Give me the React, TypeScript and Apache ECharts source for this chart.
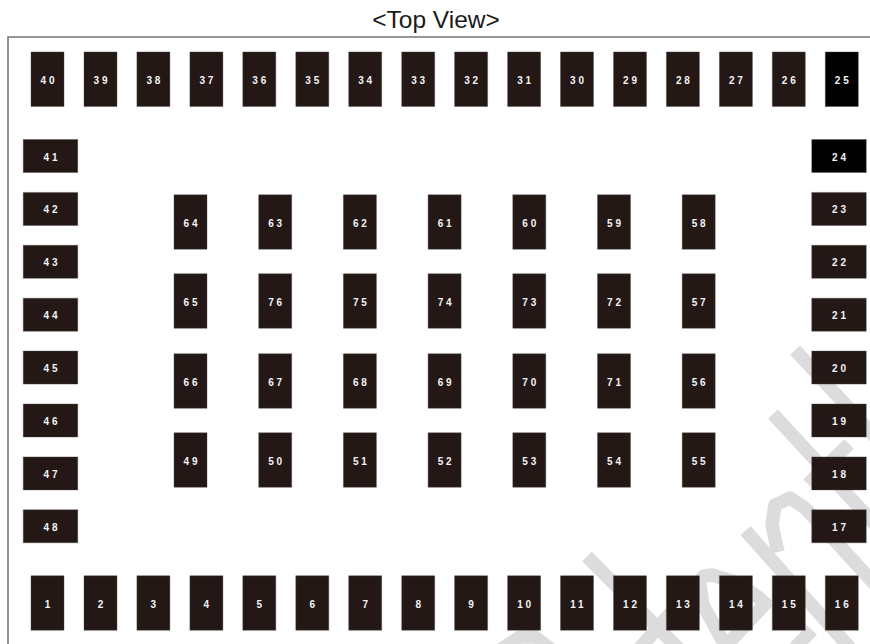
import React, { useEffect, useRef } from "react";
import * as echarts from "echarts";

const titleText = "<Top View>";

// Pin numbers by board group
const topRowPins = [40, 39, 38, 37, 36, 35, 34, 33, 32, 31, 30, 29, 28, 27, 26, 25];
const bottomRowPins = [1, 2, 3, 4, 5, 6, 7, 8, 9, 10, 11, 12, 13, 14, 15, 16];
const leftColPins = [41, 42, 43, 44, 45, 46, 47, 48];
const rightColPins = [24, 23, 22, 21, 20, 19, 18, 17];
const centerPins = [
  [64, 63, 62, 61, 60, 59, 58],
  [65, 76, 75, 74, 73, 72, 57],
  [66, 67, 68, 69, 70, 71, 56],
  [49, 50, 51, 52, 53, 54, 55],
];
const darkestPins = [24, 25];

// Board coordinates of pin centres (axis units)
const edgeRowX = [47.5, 100.5, 153.4, 206.4, 259.3, 312.3, 365.2, 418.2, 471.1, 524.1, 577, 630, 682.9, 735.9, 788.8, 841.8];
const topRowY = 79.2;
const bottomRowY = 603;
const edgeColY = [156, 208.9, 261.8, 314.7, 367.6, 420.5, 473.4, 526.3];
const leftColX = 50.5;
const rightColX = 839;
const centerColX = [190.5, 275.2, 359.9, 444.6, 529.3, 614, 698.7];
const centerRowY = [222, 301, 381, 460];

type Pin = [number, number, number, number];
const pinData: Pin[] = [];
topRowPins.forEach((p, i) => pinData.push([edgeRowX[i], topRowY, p, 0]));
bottomRowPins.forEach((p, i) => pinData.push([edgeRowX[i], bottomRowY, p, 0]));
leftColPins.forEach((p, i) => pinData.push([leftColX, edgeColY[i], p, 1]));
rightColPins.forEach((p, i) => pinData.push([rightColX, edgeColY[i], p, 1]));
centerPins.forEach((row, r) => row.forEach((p, c) => pinData.push([centerColX[c], centerRowY[r], p, 0])));

const LETTER_SPACING = 2.8;

const wm = (points: number[][]) => ({
  type: "polyline",
  silent: true,
  z: 0,
  shape: { points },
  style: { fill: "none", stroke: "#dcdcdc", lineWidth: 13.5, lineJoin: "round", lineCap: "butt" },
});

export default function App() {
  const ref = useRef<HTMLDivElement>(null);
  useEffect(() => {
    const chart = echarts.init(ref.current!, undefined, { renderer: "svg" });
    chart.setOption({
      animation: false,
      backgroundColor: "#ffffff",
      title: {
        text: titleText,
        left: 431,
        top: 2,
        textAlign: "center",
        textStyle: { fontFamily: "Liberation Sans", fontSize: 24.5, fontWeight: "normal", color: "#1a1a1a" },
      },
      grid: { left: 0, right: 0, top: 0, bottom: 0 },
      xAxis: { type: "value", min: 0, max: 870, show: false },
      yAxis: { type: "value", min: 0, max: 644, inverse: true, show: false },
      graphic: [
        { type: "polyline", z: 1, silent: true, shape: { points: [[8, 644], [8, 37], [870, 37]] },
          style: { fill: "none", stroke: "#757575", lineWidth: 1.6 } },
        wm([[795, 350], [880, 442]]),
        wm([[773, 414], [880, 530]]),
        wm([[849, 444], [808, 484]]),
        wm([[745.5, 530.5], [850, 648]]),
        wm([[778, 552], [772, 525], [775, 505], [790, 498], [805, 508], [880, 590]]),
        wm([[587, 556.5], [682, 652]]),
        wm([[640, 648], [698, 582], [704, 576], [712, 575], [735, 582], [758, 597], [768, 606]]),
        wm([[700, 585], [703, 605], [725, 645]]),
        wm([[768, 601], [722, 650]]),
        wm([[812, 630], [795, 648]]),
        wm([[500, 650], [520, 637], [535, 637], [552, 650]]),
      ],
      series: [
        {
          type: "custom",
          coordinateSystem: "cartesian2d",
          data: pinData,
          encode: { x: 0, y: 1 },
          clip: false,
          renderItem: (_: any, api: any) => {
            const c = api.coord([api.value(0), api.value(1)]);
            const wide = api.value(3) === 1;
            const s = api.size(wide ? [54.5, 33] : [33, 54.5]);
            const num = api.value(2);
            return {
              type: "group",
              children: [
                {
                  type: "rect",
                  shape: { x: c[0] - s[0] / 2, y: c[1] - s[1] / 2, width: s[0], height: s[1] },
                  style: {
                    fill: darkestPins.includes(num) ? "#000000" : "#231815",
                    stroke: "#4a4744",
                    lineWidth: 0.4,
                  },
                },
                {
                  type: "text",
                  style: {
                    x: c[0] + LETTER_SPACING / 2,
                    y: c[1] + 1,
                    text: String(num),
                    fill: "#f4f4f4",
                    font: "bold 10px 'Liberation Sans'",
                    align: "center",
                    verticalAlign: "middle",
                  },
                },
              ],
            };
          },
        },
      ],
    });
    ref.current!.querySelectorAll("text").forEach((t) => {
      if (/^\d+$/.test((t.textContent || "").trim())) t.style.letterSpacing = LETTER_SPACING + "px";
    });
    return () => chart.dispose();
  }, []);
  return <div ref={ref} style={{ position: "absolute", left: 0, top: 0, width: 870, height: 644 }} />;
}
